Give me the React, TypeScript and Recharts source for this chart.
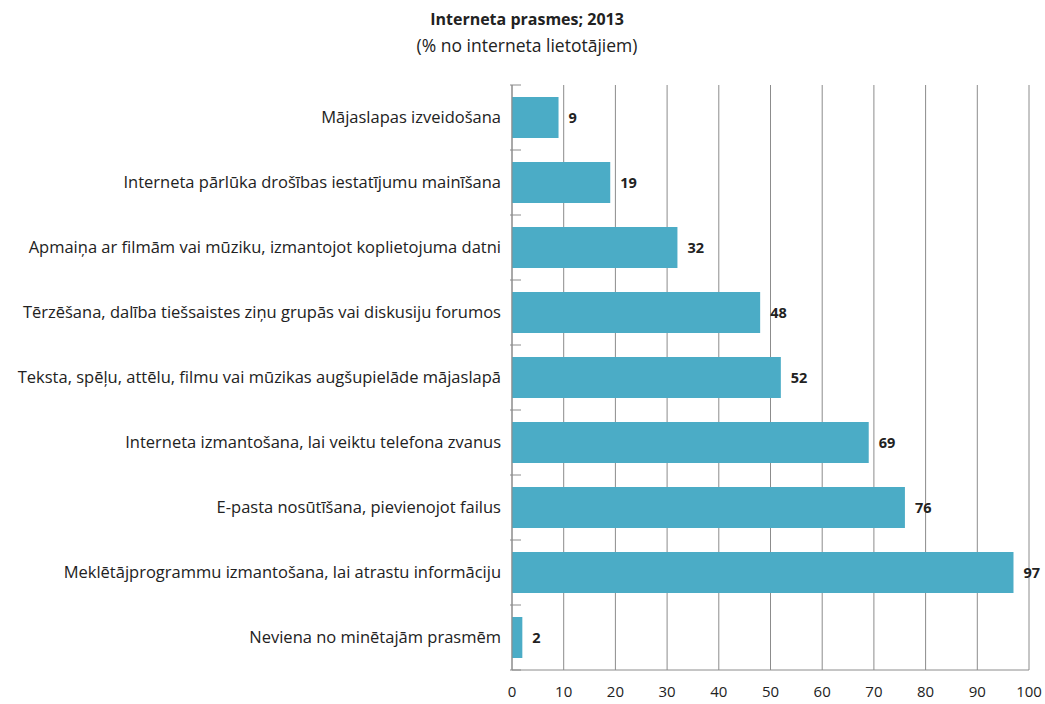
import { BarChart, Bar, XAxis, YAxis, CartesianGrid, LabelList } from 'recharts';

const categories = [
  'Mājaslapas izveidošana',
  'Interneta pārlūka drošības iestatījumu mainīšana',
  'Apmaiņa ar filmām vai mūziku, izmantojot koplietojuma datni',
  'Tērzēšana, dalība tiešsaistes ziņu grupās vai diskusiju forumos',
  'Teksta, spēļu, attēlu, filmu vai mūzikas augšupielāde mājaslapā',
  'Interneta izmantošana, lai veiktu telefona zvanus',
  'E-pasta nosūtīšana, pievienojot failus',
  'Meklētājprogrammu izmantošana, lai atrastu informāciju',
  'Neviena no minētajām prasmēm',
];
const values = [9, 19, 32, 48, 52, 69, 76, 97, 2];
const xTicks = [0, 10, 20, 30, 40, 50, 60, 70, 80, 90, 100];

const data = categories.map((name, i) => ({ name, value: values[i] }));

const FONT = '"Open Sans", sans-serif';
const BAND = 65;

// tick at band boundary like Excel, plus the label
const CategoryTick = (props: any) => {
  const { x, y, payload, index } = props;
  return (
    <g>
      <line x1={x + 6} x2={x + 17} y1={y - BAND / 2} y2={y - BAND / 2} stroke="#8c8c8c" />
      {index === categories.length - 1 && (
        <line x1={x + 6} x2={x + 17} y1={y + BAND / 2} y2={y + BAND / 2} stroke="#8c8c8c" />
      )}
      <text x={x - 3} y={y} dy={5} textAnchor="end" fill="#222" fontSize={16.5} fontFamily={FONT}>
        {payload.value}
      </text>
    </g>
  );
};

export default function App() {
  return (
    <div style={{ position: 'absolute', left: 0, top: 0, width: 1045, height: 704, background: '#fff', fontFamily: FONT }}>
      <div style={{ position: 'absolute', left: 0, top: 6, width: 1054, textAlign: 'center', color: '#222' }}>
        <div style={{ fontSize: 16, fontWeight: 700, lineHeight: '26px' }}>Interneta prasmes; 2013</div>
        <div style={{ fontSize: 17.5, lineHeight: '26px' }}>(% no interneta lietotājiem)</div>
      </div>
      <BarChart
        width={1045}
        height={704}
        data={data}
        layout="vertical"
        margin={{ top: 85, right: 16, bottom: 0, left: 0 }}
      >
        <CartesianGrid horizontal={false} vertical stroke="#8c8c8c" strokeWidth={1} />
        <XAxis
          type="number"
          domain={[0, 100]}
          ticks={xTicks}
          interval={0}
          height={34}
          tickLine={false}
          axisLine={{ stroke: '#8c8c8c' }}
          tick={{ fill: '#222', fontSize: 15, fontFamily: FONT }}
          tickMargin={10}
        />
        <YAxis
          type="category"
          dataKey="name"
          width={512}
          tickLine={false}
          axisLine={{ stroke: '#8c8c8c' }}
          tick={<CategoryTick />}
          interval={0}
        />
        <Bar dataKey="value" fill="#4bacc6" barSize={41} isAnimationActive={false}>
          <LabelList
            dataKey="value"
            position="right"
            offset={10}
            fill="#222"
            fontSize={14.5}
            fontWeight={700}
            fontFamily={FONT}
          />
        </Bar>
      </BarChart>
    </div>
  );
}
